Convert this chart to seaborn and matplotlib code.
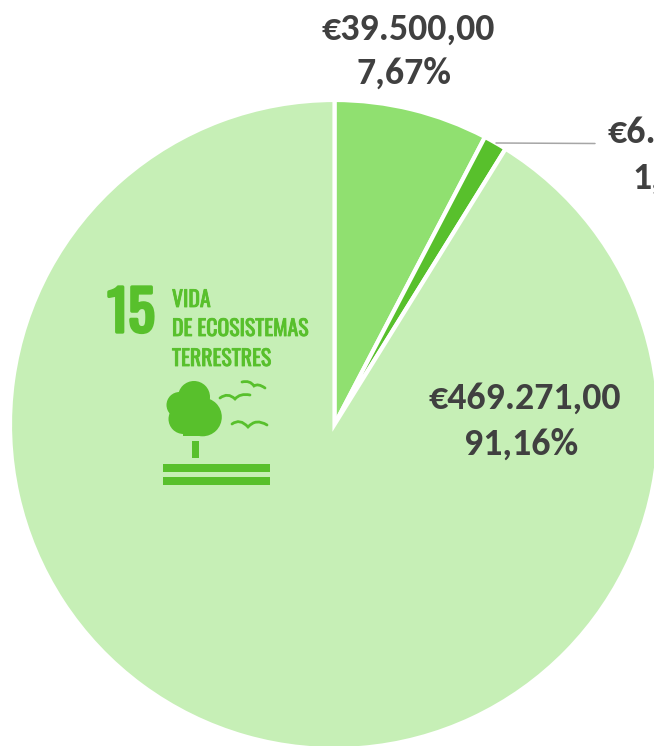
import matplotlib
matplotlib.use('Agg')
import matplotlib.pyplot as plt
import matplotlib.patheffects as pe
import seaborn as sns
from matplotlib.patches import Circle, Rectangle, PathPatch
from matplotlib.path import Path

# datos
amounts = [39500, 6000, 469271]
amount_labels = ['€39.500,00', '€6.000,00', '€469.271,00']
pct_labels = ['7,67%', '1,17%', '91,16%']
slice_colors = ['#90e070', '#58c02c', '#c6efb6']

icon_number = '15'
icon_title = ['VIDA', 'DE ECOSISTEMAS', 'TERRESTRES']

W, H = 654, 746
sns.set_theme(style='white')
plt.rcParams['font.family'] = ['Carlito', 'Lato', 'DejaVu Sans']

fig = plt.figure(figsize=(W / 100, H / 100), dpi=100)
ax = fig.add_axes([0, 0, 1, 1])

# pie (y invertida a mano: H - py)
ax.pie(amounts, colors=sns.color_palette(slice_colors), startangle=90, counterclock=False,
       center=(334.5, H - 424.5), radius=324.5, frame=True,
       wedgeprops={'edgecolor': 'white', 'linewidth': 3})
ax.set_xlim(0, W)
ax.set_ylim(0, H)
ax.set_aspect('equal')
ax.axis('off')

# etiquetas
txt = dict(color='#404040', fontsize=27.3, fontweight='bold', ha='center', va='center')
ax.text(408, H - 29, amount_labels[0], **txt)
ax.text(404, H - 73, pct_labels[0], **txt)
ax.text(685, H - 132, amount_labels[1], **txt)
ax.text(680, H - 178, pct_labels[1], **txt)
ax.text(525, H - 398, amount_labels[2], **txt)
ax.text(521, H - 444, pct_labels[2], **txt)

# linea guia
ax.plot([496, 595], [H - 143, H - 143.5], color='#a6a6a6', lw=1.1)

# logo ODS 15
green = slice_colors[1]
narrow = ['Oswald', 'Liberation Sans']
ax.text(131, H - 314, icon_number, color=green, fontsize=40, fontweight='bold', family=narrow,
        ha='center', va='center', path_effects=[pe.withStroke(linewidth=2.4, foreground=green)])
for label, y in zip(icon_title, [300, 329, 359]):
    ax.text(172, H - y, label, color=green, fontsize=15.7, fontweight='bold', family=narrow,
            ha='left', va='center', path_effects=[pe.withStroke(linewidth=0.6, foreground=green)])

# arbol
for cx, cy, r in [(194, 397, 16), (179.5, 405, 13), (202.5, 417, 19.3), (183.5, 419, 15)]:
    ax.add_patch(Circle((cx, H - cy), r, color=green, lw=0))
ax.add_patch(Rectangle((183, H - 436.3), 20, 16, color=green, lw=0))
ax.add_patch(Rectangle((191.7, H - 457.5), 7.6, 17, color=green, lw=0))

# franjas
ax.add_patch(Rectangle((162.7, H - 472), 107.3, 7.7, color=green, lw=0))
ax.add_patch(Rectangle((162.7, H - 484.7), 107.3, 7.4, color=green, lw=0))

# pajaros
birds = [
    [(220, 398), (228, 392), (235, 399), (240, 393), (250, 395)],
    [(242, 382), (250, 380), (254, 386), (258, 383), (265, 388)],
    [(232, 424), (240, 418), (248, 427), (256, 418), (267, 425)],
]
for b in birds:
    pts = [(x, H - y) for x, y in b]
    ax.add_patch(PathPatch(Path(pts, [Path.MOVETO, Path.CURVE3, Path.CURVE3, Path.CURVE3, Path.CURVE3]),
                           fc='none', ec=green, lw=2, capstyle='round'))

plt.savefig('out.png', dpi=100)
